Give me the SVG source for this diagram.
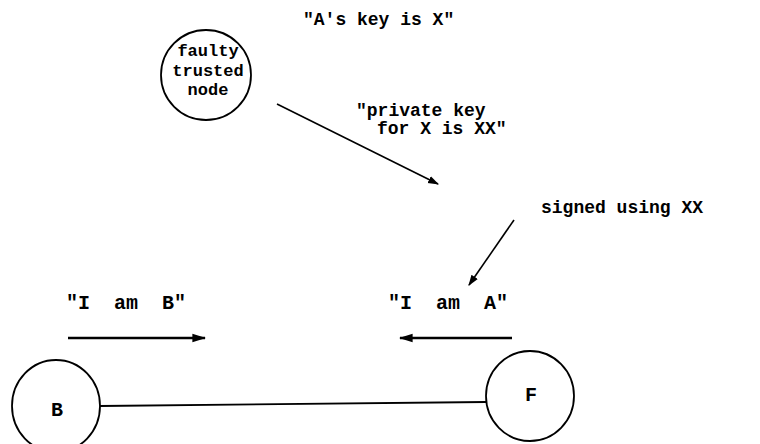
<svg xmlns="http://www.w3.org/2000/svg" width="760" height="444" viewBox="0 0 760 444">
<style>
text{font-family:"Liberation Mono","DejaVu Sans Mono",monospace;font-weight:bold;font-size:18px;fill:#000}
.s{font-size:17px}
.b{font-size:20px}
.n{fill:none;stroke:#000;stroke-width:1.8}
.c{fill:none;stroke:#000;stroke-width:1.6}
.h{fill:none;stroke:#000;stroke-width:2.6}
</style>
<defs>
<marker id="ah" viewBox="0 0 10 10" refX="9" refY="5" markerWidth="11" markerHeight="11" markerUnits="userSpaceOnUse" orient="auto"><path d="M0,1.5L10,5L0,8.5z" fill="#000"/></marker>
<marker id="ah2" viewBox="0 0 10 10" refX="9" refY="5" markerWidth="14" markerHeight="14" markerUnits="userSpaceOnUse" orient="auto"><path d="M0,2L10,5L0,8z" fill="#000"/></marker>
</defs>
<rect width="760" height="444" fill="#fff"/>
<g id="trusted">
<circle class="n" cx="206" cy="75" r="45"/>
<text class="s" x="208" y="56" text-anchor="middle">faulty</text>
<text class="s" x="208" y="75.5" text-anchor="middle">trusted</text>
<text class="s" x="208" y="95" text-anchor="middle">node</text>
</g>
<g id="B">
<ellipse class="n" cx="56" cy="406" rx="44" ry="46"/>
<text class="b" x="57" y="416" text-anchor="middle">B</text>
</g>
<g id="F">
<ellipse class="n" cx="530" cy="396" rx="44" ry="45"/>
<text class="b" x="531" y="401" text-anchor="middle">F</text>
</g>
<g id="labels">
<text x="303" y="25">"A's key is X"</text>
<text x="356" y="116">"private key</text>
<text x="377" y="134">for X is XX"</text>
<text x="541" y="213">signed using XX</text>
<text class="b" x="66" y="309" xml:space="preserve">"I  am  B"</text>
<text class="b" x="388" y="309" xml:space="preserve">"I  am  A"</text>
</g>
<g id="connectors">
<line class="n" x1="100" y1="406" x2="486" y2="402"/>
<line class="c" x1="277" y1="104" x2="438" y2="184" marker-end="url(#ah)"/>
<line class="c" x1="514" y1="220" x2="469" y2="285" marker-end="url(#ah)"/>
<line class="h" x1="68" y1="338" x2="205" y2="338" marker-end="url(#ah2)"/>
<line class="h" x1="512" y1="338" x2="400" y2="338" marker-end="url(#ah2)"/>
</g>
</svg>
